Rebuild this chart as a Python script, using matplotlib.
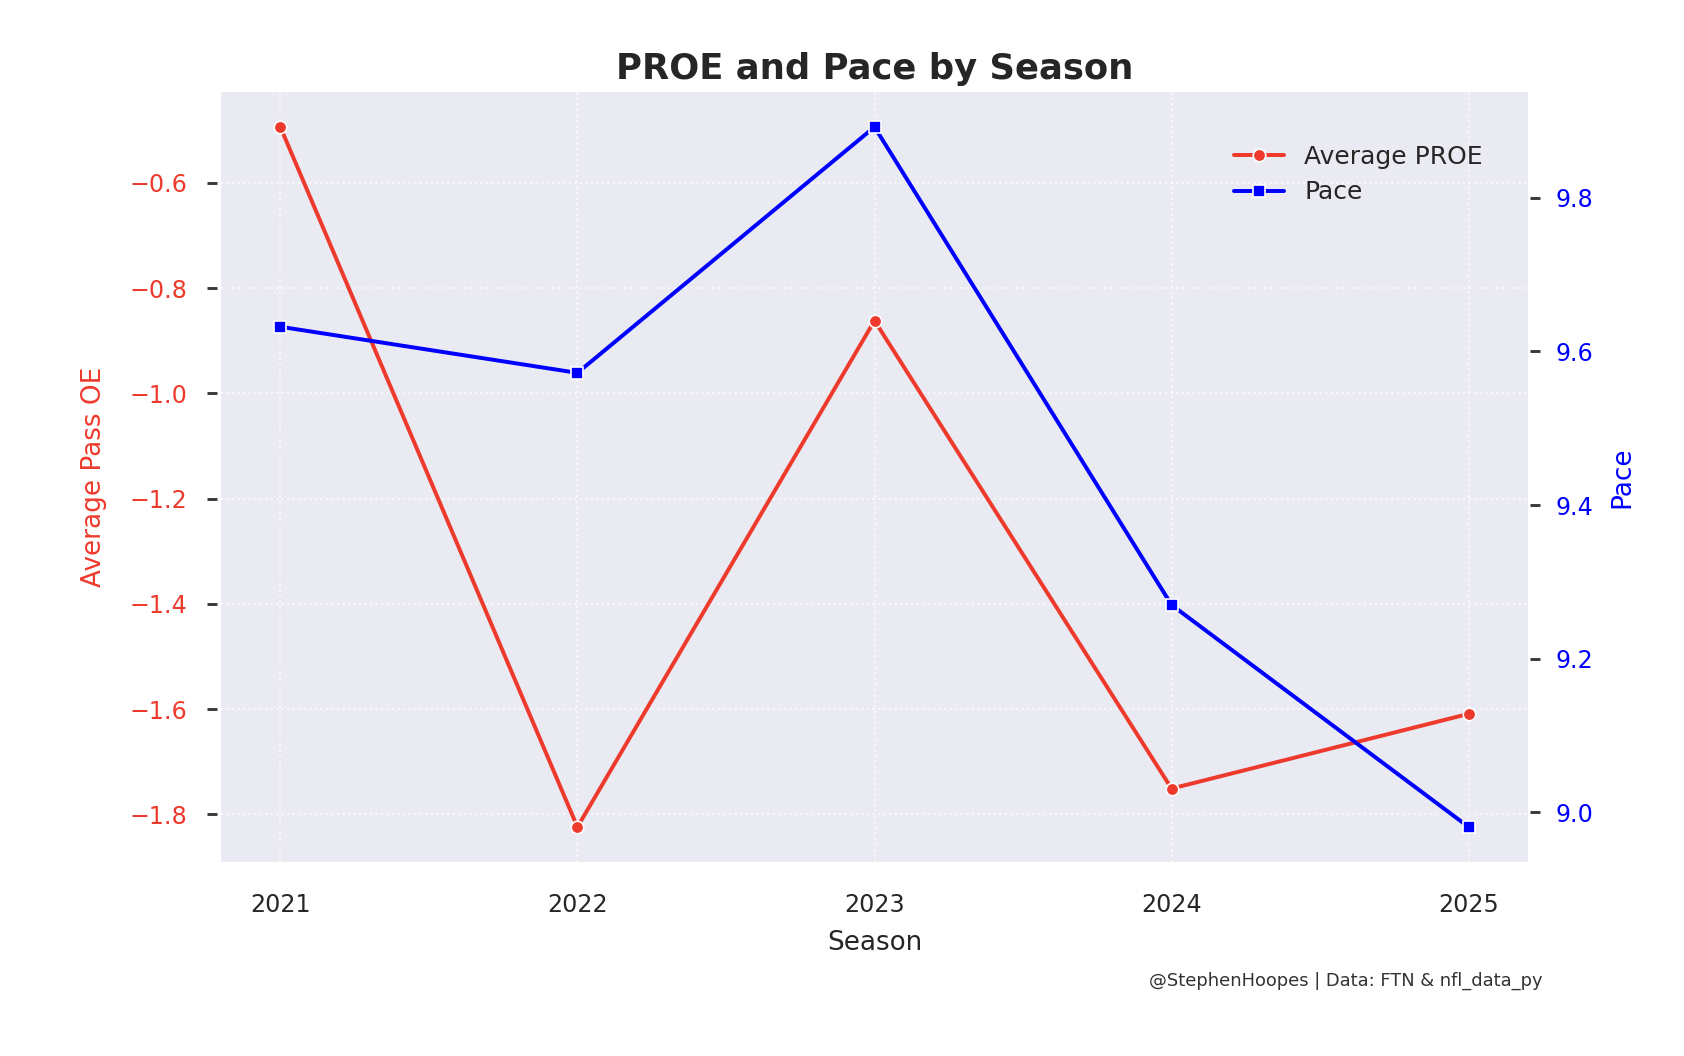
import matplotlib
matplotlib.use('Agg')
import matplotlib.pyplot as plt
import seaborn as sns

seasons = [2021, 2022, 2023, 2024, 2025]
avg_proe = [-0.494, -1.824, -0.862, -1.751, -1.609]
pace = [9.632, 9.572, 9.892, 9.270, 8.981]

red = '#ee3a2c'
blue = '#0000ff'

sns.set_style('darkgrid')
plt.rcParams['font.family'] = ['DejaVu Sans']

fig = plt.figure(figsize=(1684 / 150, 1056 / 150), dpi=150)
ax = fig.add_axes([0.1312, 0.1837, 0.7762, 0.7292])
ax2 = ax.twinx()

l1, = ax.plot(seasons, avg_proe, color=red, lw=1.9, marker='o', ms=6,
              mec='white', mew=0.8, label='Average PROE')
l2, = ax2.plot(seasons, pace, color=blue, lw=1.9, marker='s', ms=6,
               mec='white', mew=0.8, label='Pace')

ax.grid(True, linestyle=':', color='white', linewidth=1, alpha=0.7)
ax2.grid(False)
for s in list(ax.spines.values()) + list(ax2.spines.values()):
    s.set_visible(False)

ax.set_xticks(seasons)
ax.tick_params(axis='x', length=0, pad=15, labelsize=11.4, labelcolor='#262626')
ax.tick_params(axis='y', length=5, width=1.4, color='#3a3a3a', pad=9,
               labelsize=11.4, labelcolor=red, direction='out')
ax2.tick_params(axis='y', length=5, width=1.4, color='#3a3a3a', pad=7,
                labelsize=11.4, labelcolor=blue, direction='out')
ax.spines['left'].set_position(('outward', 2))
ax2.spines['right'].set_position(('outward', 1))

ax.set_xlabel('Season', fontsize=12.6, color='#262626', labelpad=6)
ax.set_ylabel('Average Pass OE', fontsize=12.6, color=red, labelpad=11)
ax2.set_ylabel('Pace', fontsize=12.6, color=blue, labelpad=8)
ax.set_title('PROE and Pace by Season', fontsize=17, fontweight='bold',
             color='#262626', pad=6)

ax2.legend([l1, l2], ['Average PROE', 'Pace'], loc='upper right',
           bbox_to_anchor=(0.9655, 0.931), frameon=False, fontsize=12,
           borderaxespad=0, borderpad=0, labelspacing=0.45)

fig.text(0.916, 0.071, '@StephenHoopes | Data: FTN & nfl_data_py',
         ha='right', va='center', fontsize=8.6, color='#333333')

fig.savefig('out.png', dpi=150)
